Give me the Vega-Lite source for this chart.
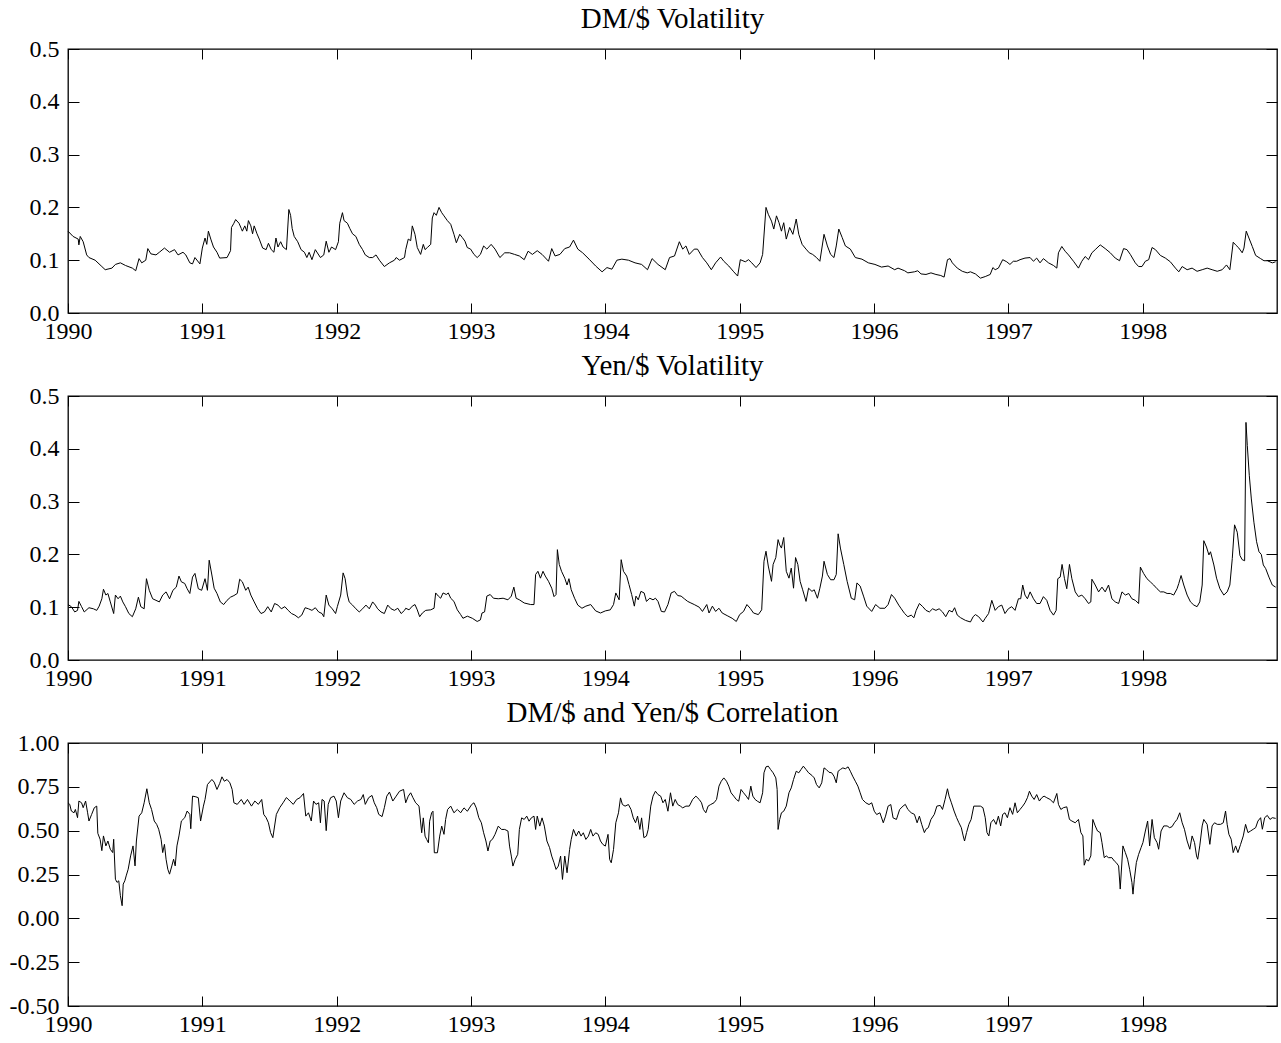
{
"$schema":"https://vega.github.io/schema/vega-lite/v6.json",
"padding":{"left":8,"top":4,"right":5,"bottom":2},
"spacing":7,
"config":{
 "font":"Liberation Serif",
 "view":{"stroke":"black","strokeWidth":1.3},
 "axis":{"grid":false,"domain":false,"labelFont":"Liberation Serif","labelFontSize":24,"labelColor":"black","tickColor":"black","tickWidth":1,"title":null,"labelFlush":false,"labelOverlap":false,"labelBound":false},
 "title":{"font":"Liberation Serif","fontSize":29,"fontWeight":"normal","color":"black","offset":3}
},
"datasets":{
"dm":[
{"t":1990.0,"v":0.155},{"t":1990.038,"v":0.145},{"t":1990.076,"v":0.14},{"t":1990.081,"v":0.129},{"t":1990.091,"v":0.145},{"t":1990.113,"v":0.135},{"t":1990.139,"v":0.11},{"t":1990.156,"v":0.105},{"t":1990.202,"v":0.1},{"t":1990.252,"v":0.088},{"t":1990.277,"v":0.082},{"t":1990.327,"v":0.085},{"t":1990.353,"v":0.092},{"t":1990.39,"v":0.095},{"t":1990.428,"v":0.09},{"t":1990.479,"v":0.085},{"t":1990.504,"v":0.08},{"t":1990.529,"v":0.103},{"t":1990.549,"v":0.095},{"t":1990.579,"v":0.1},{"t":1990.594,"v":0.122},{"t":1990.617,"v":0.112},{"t":1990.655,"v":0.11},{"t":1990.68,"v":0.115},{"t":1990.718,"v":0.123},{"t":1990.756,"v":0.115},{"t":1990.793,"v":0.12},{"t":1990.819,"v":0.11},{"t":1990.856,"v":0.115},{"t":1990.877,"v":0.11},{"t":1990.907,"v":0.095},{"t":1990.927,"v":0.093},{"t":1990.945,"v":0.105},{"t":1990.982,"v":0.093},{"t":1991.0,"v":0.123},{"t":1991.02,"v":0.142},{"t":1991.033,"v":0.13},{"t":1991.045,"v":0.155},{"t":1991.063,"v":0.14},{"t":1991.083,"v":0.125},{"t":1991.109,"v":0.115},{"t":1991.129,"v":0.104},{"t":1991.184,"v":0.105},{"t":1991.21,"v":0.118},{"t":1991.217,"v":0.162},{"t":1991.235,"v":0.17},{"t":1991.248,"v":0.177},{"t":1991.273,"v":0.17},{"t":1991.29,"v":0.16},{"t":1991.298,"v":0.155},{"t":1991.316,"v":0.165},{"t":1991.331,"v":0.155},{"t":1991.343,"v":0.175},{"t":1991.361,"v":0.165},{"t":1991.374,"v":0.15},{"t":1991.386,"v":0.165},{"t":1991.407,"v":0.15},{"t":1991.424,"v":0.14},{"t":1991.449,"v":0.123},{"t":1991.475,"v":0.12},{"t":1991.492,"v":0.132},{"t":1991.513,"v":0.12},{"t":1991.533,"v":0.115},{"t":1991.548,"v":0.142},{"t":1991.563,"v":0.125},{"t":1991.583,"v":0.135},{"t":1991.601,"v":0.125},{"t":1991.626,"v":0.12},{"t":1991.644,"v":0.196},{"t":1991.657,"v":0.185},{"t":1991.669,"v":0.16},{"t":1991.684,"v":0.145},{"t":1991.71,"v":0.135},{"t":1991.735,"v":0.12},{"t":1991.76,"v":0.115},{"t":1991.778,"v":0.105},{"t":1991.795,"v":0.115},{"t":1991.816,"v":0.101},{"t":1991.841,"v":0.12},{"t":1991.879,"v":0.105},{"t":1991.904,"v":0.11},{"t":1991.922,"v":0.136},{"t":1991.942,"v":0.115},{"t":1991.962,"v":0.125},{"t":1991.992,"v":0.12},{"t":1992.013,"v":0.135},{"t":1992.023,"v":0.17},{"t":1992.043,"v":0.19},{"t":1992.055,"v":0.175},{"t":1992.08,"v":0.17},{"t":1992.098,"v":0.16},{"t":1992.118,"v":0.15},{"t":1992.143,"v":0.145},{"t":1992.168,"v":0.13},{"t":1992.193,"v":0.12},{"t":1992.213,"v":0.11},{"t":1992.243,"v":0.105},{"t":1992.268,"v":0.105},{"t":1992.293,"v":0.11},{"t":1992.318,"v":0.1},{"t":1992.355,"v":0.088},{"t":1992.393,"v":0.095},{"t":1992.43,"v":0.1},{"t":1992.443,"v":0.105},{"t":1992.468,"v":0.1},{"t":1992.505,"v":0.105},
{"t":1992.514,"v":0.12},{"t":1992.533,"v":0.14},{"t":1992.551,"v":0.137},{"t":1992.563,"v":0.165},{"t":1992.583,"v":0.149},{"t":1992.6,"v":0.124},{"t":1992.625,"v":0.111},{"t":1992.645,"v":0.13},{"t":1992.658,"v":0.12},{"t":1992.675,"v":0.124},{"t":1992.7,"v":0.13},{"t":1992.712,"v":0.18},{"t":1992.725,"v":0.19},{"t":1992.742,"v":0.185},{"t":1992.762,"v":0.2},{"t":1992.782,"v":0.19},{"t":1992.799,"v":0.184},{"t":1992.824,"v":0.175},{"t":1992.849,"v":0.168},{"t":1992.873,"v":0.149},{"t":1992.891,"v":0.133},{"t":1992.916,"v":0.149},{"t":1992.935,"v":0.143},{"t":1992.955,"v":0.136},{"t":1992.972,"v":0.124},{"t":1992.997,"v":0.121},{"t":1993.022,"v":0.111},{"t":1993.046,"v":0.105},{"t":1993.07,"v":0.111},{"t":1993.094,"v":0.127},{"t":1993.118,"v":0.121},{"t":1993.15,"v":0.13},{"t":1993.179,"v":0.121},{"t":1993.215,"v":0.105},{"t":1993.251,"v":0.114},{"t":1993.287,"v":0.114},{"t":1993.324,"v":0.111},{"t":1993.36,"v":0.108},{"t":1993.396,"v":0.101},{"t":1993.425,"v":0.117},{"t":1993.457,"v":0.111},{"t":1993.493,"v":0.118},{"t":1993.529,"v":0.111},{"t":1993.577,"v":0.098},{"t":1993.601,"v":0.122},{"t":1993.626,"v":0.108},{"t":1993.662,"v":0.111},{"t":1993.698,"v":0.122},{"t":1993.734,"v":0.125},{"t":1993.763,"v":0.138},{"t":1993.795,"v":0.121},{"t":1993.831,"v":0.114},{"t":1993.879,"v":0.102},{"t":1993.928,"v":0.089},{"t":1993.976,"v":0.078},{"t":1994.012,"v":0.086},{"t":1994.049,"v":0.083},{"t":1994.086,"v":0.1},{"t":1994.123,"v":0.102},{"t":1994.172,"v":0.1},{"t":1994.221,"v":0.095},{"t":1994.27,"v":0.092},{"t":1994.314,"v":0.082},{"t":1994.348,"v":0.103},{"t":1994.392,"v":0.092},{"t":1994.446,"v":0.082},{"t":1994.478,"v":0.105},{"t":1994.515,"v":0.108},{"t":1994.551,"v":0.135},{"t":1994.576,"v":0.121},{"t":1994.6,"v":0.127},{"t":1994.625,"v":0.111},{"t":1994.662,"v":0.121},{"t":1994.686,"v":0.121},{"t":1994.723,"v":0.105},{"t":1994.755,"v":0.095},{"t":1994.789,"v":0.082},{"t":1994.821,"v":0.095},{"t":1994.858,"v":0.106},{"t":1994.882,"v":0.098},{"t":1994.919,"v":0.089},{"t":1994.956,"v":0.078},{"t":1994.985,"v":0.07},{"t":1995.005,"v":0.101},{"t":1995.042,"v":0.097},{"t":1995.066,"v":0.101},{"t":1995.09,"v":0.095},{"t":1995.122,"v":0.086},{"t":1995.152,"v":0.095},{"t":1995.171,"v":0.111},{"t":1995.196,"v":0.2},{"t":1995.213,"v":0.187},{"t":1995.237,"v":0.174},{"t":1995.254,"v":0.159},{"t":1995.274,"v":0.184},{"t":1995.293,"v":0.171},{"t":1995.311,"v":0.155},{"t":1995.328,"v":0.171},{"t":1995.347,"v":0.14},{"t":1995.372,"v":0.162},{"t":1995.396,"v":0.149},{"t":1995.421,"v":0.178},{"t":1995.44,"v":0.149},{"t":1995.465,"v":0.13},{"t":1995.494,"v":0.121},{"t":1995.518,"v":0.114},{"t":1995.543,"v":0.111},{"t":1995.572,"v":0.105},{"t":1995.597,"v":0.098},{"t":1995.628,"v":0.149},{"t":1995.653,"v":0.127},{"t":1995.677,"v":0.111},{"t":1995.702,"v":0.105},{"t":1995.719,"v":0.127},{"t":1995.738,"v":0.159},{"t":1995.763,"v":0.143},{"t":1995.787,"v":0.127},{"t":1995.824,"v":0.121},{"t":1995.861,"v":0.105},{"t":1995.91,"v":0.102},{"t":1995.958,"v":0.095},{"t":1996.007,"v":0.092},{"t":1996.056,"v":0.087},{"t":1996.105,"v":0.089},{"t":1996.154,"v":0.082},
{"t":1996.179,"v":0.085},{"t":1996.228,"v":0.08},{"t":1996.252,"v":0.076},{"t":1996.301,"v":0.078},{"t":1996.326,"v":0.08},{"t":1996.35,"v":0.074},{"t":1996.387,"v":0.073},{"t":1996.424,"v":0.076},{"t":1996.461,"v":0.073},{"t":1996.497,"v":0.071},{"t":1996.522,"v":0.068},{"t":1996.547,"v":0.101},{"t":1996.566,"v":0.103},{"t":1996.583,"v":0.095},{"t":1996.62,"v":0.085},{"t":1996.657,"v":0.079},{"t":1996.694,"v":0.076},{"t":1996.718,"v":0.078},{"t":1996.755,"v":0.074},{"t":1996.792,"v":0.066},{"t":1996.828,"v":0.069},{"t":1996.865,"v":0.073},{"t":1996.885,"v":0.086},{"t":1996.902,"v":0.082},{"t":1996.926,"v":0.085},{"t":1996.958,"v":0.101},{"t":1996.988,"v":0.097},{"t":1997.012,"v":0.092},{"t":1997.037,"v":0.098},{"t":1997.062,"v":0.098},{"t":1997.087,"v":0.101},{"t":1997.124,"v":0.104},{"t":1997.162,"v":0.105},{"t":1997.187,"v":0.098},{"t":1997.211,"v":0.104},{"t":1997.236,"v":0.095},{"t":1997.261,"v":0.103},{"t":1997.299,"v":0.095},{"t":1997.336,"v":0.09},{"t":1997.361,"v":0.085},{"t":1997.373,"v":0.114},{"t":1997.398,"v":0.126},{"t":1997.423,"v":0.117},{"t":1997.448,"v":0.11},{"t":1997.485,"v":0.098},{"t":1997.522,"v":0.085},{"t":1997.547,"v":0.098},{"t":1997.572,"v":0.107},{"t":1997.597,"v":0.101},{"t":1997.622,"v":0.114},{"t":1997.647,"v":0.12},{"t":1997.684,"v":0.129},{"t":1997.721,"v":0.122},{"t":1997.759,"v":0.114},{"t":1997.796,"v":0.104},{"t":1997.828,"v":0.099},{"t":1997.858,"v":0.122},{"t":1997.883,"v":0.12},{"t":1997.908,"v":0.111},{"t":1997.945,"v":0.095},{"t":1997.97,"v":0.088},{"t":1997.995,"v":0.088},{"t":1998.02,"v":0.098},{"t":1998.045,"v":0.101},{"t":1998.07,"v":0.124},{"t":1998.095,"v":0.12},{"t":1998.132,"v":0.109},{"t":1998.169,"v":0.104},{"t":1998.206,"v":0.097},{"t":1998.244,"v":0.085},{"t":1998.269,"v":0.078},{"t":1998.294,"v":0.088},{"t":1998.331,"v":0.082},{"t":1998.368,"v":0.085},{"t":1998.405,"v":0.079},{"t":1998.443,"v":0.082},{"t":1998.48,"v":0.085},{"t":1998.517,"v":0.082},{"t":1998.555,"v":0.079},{"t":1998.592,"v":0.082},{"t":1998.624,"v":0.091},{"t":1998.649,"v":0.082},{"t":1998.674,"v":0.134},{"t":1998.692,"v":0.129},{"t":1998.716,"v":0.123},{"t":1998.741,"v":0.114},{"t":1998.754,"v":0.123},{"t":1998.771,"v":0.155},{"t":1998.791,"v":0.142},{"t":1998.816,"v":0.126},{"t":1998.841,"v":0.109},{"t":1998.878,"v":0.103},{"t":1998.903,"v":0.099},{"t":1998.928,"v":0.099},{"t":1998.965,"v":0.095},{"t":1998.99,"v":0.097}
],
"yen":[
{"t":1990.0,"v":0.105},{"t":1990.025,"v":0.101},{"t":1990.05,"v":0.091},{"t":1990.071,"v":0.094},{"t":1990.081,"v":0.111},{"t":1990.101,"v":0.101},{"t":1990.121,"v":0.091},{"t":1990.156,"v":0.099},{"t":1990.189,"v":0.097},{"t":1990.214,"v":0.094},{"t":1990.232,"v":0.102},{"t":1990.252,"v":0.116},{"t":1990.264,"v":0.134},{"t":1990.282,"v":0.123},{"t":1990.297,"v":0.126},{"t":1990.315,"v":0.11},{"t":1990.34,"v":0.088},{"t":1990.353,"v":0.123},{"t":1990.373,"v":0.116},{"t":1990.39,"v":0.121},{"t":1990.408,"v":0.11},{"t":1990.428,"v":0.101},{"t":1990.453,"v":0.088},{"t":1990.479,"v":0.082},{"t":1990.504,"v":0.097},{"t":1990.524,"v":0.119},{"t":1990.542,"v":0.101},{"t":1990.567,"v":0.097},{"t":1990.584,"v":0.154},{"t":1990.605,"v":0.132},{"t":1990.63,"v":0.116},{"t":1990.655,"v":0.113},{"t":1990.68,"v":0.11},{"t":1990.705,"v":0.123},{"t":1990.73,"v":0.129},{"t":1990.756,"v":0.116},{"t":1990.781,"v":0.132},{"t":1990.806,"v":0.138},{"t":1990.826,"v":0.159},{"t":1990.844,"v":0.148},{"t":1990.869,"v":0.145},{"t":1990.887,"v":0.135},{"t":1990.907,"v":0.126},{"t":1990.927,"v":0.157},{"t":1990.945,"v":0.164},{"t":1990.97,"v":0.135},{"t":1990.995,"v":0.132},{"t":1991.02,"v":0.154},{"t":1991.038,"v":0.132},{"t":1991.051,"v":0.189},{"t":1991.071,"v":0.161},{"t":1991.088,"v":0.136},{"t":1991.109,"v":0.126},{"t":1991.134,"v":0.11},{"t":1991.159,"v":0.105},{"t":1991.184,"v":0.113},{"t":1991.21,"v":0.119},{"t":1991.235,"v":0.122},{"t":1991.26,"v":0.126},{"t":1991.278,"v":0.153},{"t":1991.298,"v":0.148},{"t":1991.323,"v":0.132},{"t":1991.341,"v":0.138},{"t":1991.361,"v":0.123},{"t":1991.386,"v":0.11},{"t":1991.412,"v":0.097},{"t":1991.437,"v":0.088},{"t":1991.462,"v":0.091},{"t":1991.487,"v":0.101},{"t":1991.513,"v":0.091},{"t":1991.538,"v":0.107},{"t":1991.563,"v":0.104},{"t":1991.588,"v":0.097},{"t":1991.614,"v":0.101},{"t":1991.639,"v":0.094},{"t":1991.664,"v":0.088},{"t":1991.689,"v":0.085},{"t":1991.715,"v":0.08},{"t":1991.74,"v":0.085},{"t":1991.765,"v":0.099},{"t":1991.79,"v":0.097},{"t":1991.816,"v":0.094},{"t":1991.841,"v":0.099},{"t":1991.866,"v":0.091},{"t":1991.891,"v":0.088},{"t":1991.904,"v":0.082},{"t":1991.922,"v":0.123},{"t":1991.942,"v":0.104},{"t":1991.967,"v":0.097},{"t":1991.992,"v":0.088},{"t":1992.005,"v":0.101},{"t":1992.03,"v":0.123},{"t":1992.048,"v":0.165},{"t":1992.063,"v":0.154},{"t":1992.08,"v":0.123},{"t":1992.093,"v":0.11},{"t":1992.118,"v":0.104},{"t":1992.143,"v":0.097},{"t":1992.168,"v":0.091},{"t":1992.193,"v":0.097},{"t":1992.218,"v":0.104},{"t":1992.243,"v":0.097},{"t":1992.268,"v":0.11},{"t":1992.288,"v":0.104},{"t":1992.305,"v":0.097},{"t":1992.33,"v":0.091},{"t":1992.355,"v":0.088},{"t":1992.38,"v":0.104},{"t":1992.405,"v":0.097},{"t":1992.43,"v":0.094},{"t":1992.455,"v":0.098},{"t":1992.48,"v":0.088},{"t":1992.505,"v":0.094},
{"t":1992.514,"v":0.098},{"t":1992.539,"v":0.095},{"t":1992.563,"v":0.102},{"t":1992.583,"v":0.105},{"t":1992.6,"v":0.095},{"t":1992.618,"v":0.082},{"t":1992.638,"v":0.089},{"t":1992.663,"v":0.094},{"t":1992.7,"v":0.095},{"t":1992.725,"v":0.098},{"t":1992.737,"v":0.127},{"t":1992.757,"v":0.121},{"t":1992.774,"v":0.117},{"t":1992.792,"v":0.127},{"t":1992.816,"v":0.124},{"t":1992.831,"v":0.127},{"t":1992.849,"v":0.117},{"t":1992.873,"v":0.111},{"t":1992.898,"v":0.095},{"t":1992.923,"v":0.086},{"t":1992.94,"v":0.079},{"t":1992.973,"v":0.083},{"t":1993.01,"v":0.079},{"t":1993.046,"v":0.073},{"t":1993.07,"v":0.076},{"t":1993.082,"v":0.089},{"t":1993.101,"v":0.091},{"t":1993.118,"v":0.121},{"t":1993.143,"v":0.124},{"t":1993.167,"v":0.117},{"t":1993.203,"v":0.116},{"t":1993.239,"v":0.117},{"t":1993.275,"v":0.114},{"t":1993.3,"v":0.121},{"t":1993.319,"v":0.138},{"t":1993.336,"v":0.117},{"t":1993.36,"v":0.114},{"t":1993.396,"v":0.108},{"t":1993.444,"v":0.105},{"t":1993.469,"v":0.105},{"t":1993.481,"v":0.162},{"t":1993.498,"v":0.168},{"t":1993.517,"v":0.155},{"t":1993.536,"v":0.168},{"t":1993.553,"v":0.159},{"t":1993.577,"v":0.149},{"t":1993.601,"v":0.136},{"t":1993.618,"v":0.12},{"t":1993.633,"v":0.124},{"t":1993.643,"v":0.209},{"t":1993.657,"v":0.181},{"t":1993.674,"v":0.168},{"t":1993.698,"v":0.155},{"t":1993.715,"v":0.142},{"t":1993.729,"v":0.154},{"t":1993.746,"v":0.133},{"t":1993.771,"v":0.117},{"t":1993.795,"v":0.104},{"t":1993.826,"v":0.098},{"t":1993.855,"v":0.102},{"t":1993.891,"v":0.105},{"t":1993.928,"v":0.093},{"t":1993.964,"v":0.089},{"t":1994.0,"v":0.093},{"t":1994.037,"v":0.095},{"t":1994.061,"v":0.105},{"t":1994.078,"v":0.127},{"t":1994.103,"v":0.114},{"t":1994.118,"v":0.19},{"t":1994.135,"v":0.168},{"t":1994.159,"v":0.159},{"t":1994.176,"v":0.143},{"t":1994.196,"v":0.124},{"t":1994.216,"v":0.102},{"t":1994.228,"v":0.121},{"t":1994.245,"v":0.114},{"t":1994.265,"v":0.13},{"t":1994.289,"v":0.127},{"t":1994.306,"v":0.111},{"t":1994.331,"v":0.117},{"t":1994.355,"v":0.114},{"t":1994.373,"v":0.117},{"t":1994.392,"v":0.111},{"t":1994.417,"v":0.092},{"t":1994.441,"v":0.091},{"t":1994.466,"v":0.105},{"t":1994.49,"v":0.127},{"t":1994.515,"v":0.13},{"t":1994.539,"v":0.122},{"t":1994.564,"v":0.121},{"t":1994.588,"v":0.116},{"t":1994.613,"v":0.111},{"t":1994.637,"v":0.108},{"t":1994.662,"v":0.105},{"t":1994.699,"v":0.1},{"t":1994.723,"v":0.092},{"t":1994.755,"v":0.105},{"t":1994.772,"v":0.089},{"t":1994.797,"v":0.102},{"t":1994.821,"v":0.092},{"t":1994.846,"v":0.098},{"t":1994.87,"v":0.089},{"t":1994.907,"v":0.084},{"t":1994.944,"v":0.079},{"t":1994.975,"v":0.073},{"t":1995.0,"v":0.086},{"t":1995.029,"v":0.092},{"t":1995.054,"v":0.105},{"t":1995.078,"v":0.098},{"t":1995.103,"v":0.089},{"t":1995.139,"v":0.086},{"t":1995.164,"v":0.095},{"t":1995.181,"v":0.187},{"t":1995.196,"v":0.206},{"t":1995.213,"v":0.178},{"t":1995.237,"v":0.149},{"t":1995.249,"v":0.181},{"t":1995.269,"v":0.194},{"t":1995.286,"v":0.228},{"t":1995.298,"v":0.218},{"t":1995.311,"v":0.212},{"t":1995.328,"v":0.232},{"t":1995.347,"v":0.168},{"t":1995.367,"v":0.155},{"t":1995.384,"v":0.174},{"t":1995.401,"v":0.136},{"t":1995.416,"v":0.194},{"t":1995.433,"v":0.181},{"t":1995.45,"v":0.149},{"t":1995.469,"v":0.133},{"t":1995.494,"v":0.111},{"t":1995.513,"v":0.136},{"t":1995.538,"v":0.13},{"t":1995.555,"v":0.133},{"t":1995.579,"v":0.117},{"t":1995.597,"v":0.136},{"t":1995.616,"v":0.159},{"t":1995.628,"v":0.187},{"t":1995.653,"v":0.162},{"t":1995.677,"v":0.152},{"t":1995.702,"v":0.152},{"t":1995.719,"v":0.162},{"t":1995.733,"v":0.239},{"t":1995.75,"v":0.212},{"t":1995.775,"v":0.181},{"t":1995.8,"v":0.149},{"t":1995.831,"v":0.117},{"t":1995.856,"v":0.114},{"t":1995.873,"v":0.146},{"t":1995.897,"v":0.14},{"t":1995.922,"v":0.121},{"t":1995.946,"v":0.102},{"t":1995.983,"v":0.092},{"t":1996.012,"v":0.105},{"t":1996.044,"v":0.098},{"t":1996.081,"v":0.098},{"t":1996.105,"v":0.105},{"t":1996.13,"v":0.124},{"t":1996.154,"v":0.117},
{"t":1996.184,"v":0.104},{"t":1996.203,"v":0.097},{"t":1996.228,"v":0.088},{"t":1996.252,"v":0.082},{"t":1996.277,"v":0.085},{"t":1996.297,"v":0.08},{"t":1996.314,"v":0.094},{"t":1996.338,"v":0.107},{"t":1996.363,"v":0.101},{"t":1996.387,"v":0.094},{"t":1996.412,"v":0.091},{"t":1996.436,"v":0.097},{"t":1996.461,"v":0.094},{"t":1996.485,"v":0.097},{"t":1996.51,"v":0.091},{"t":1996.534,"v":0.082},{"t":1996.559,"v":0.094},{"t":1996.583,"v":0.091},{"t":1996.6,"v":0.099},{"t":1996.62,"v":0.085},{"t":1996.645,"v":0.08},{"t":1996.681,"v":0.075},{"t":1996.718,"v":0.072},{"t":1996.738,"v":0.082},{"t":1996.755,"v":0.086},{"t":1996.779,"v":0.082},{"t":1996.811,"v":0.072},{"t":1996.828,"v":0.079},{"t":1996.853,"v":0.088},{"t":1996.877,"v":0.113},{"t":1996.902,"v":0.094},{"t":1996.926,"v":0.101},{"t":1996.951,"v":0.104},{"t":1996.975,"v":0.088},{"t":1997.0,"v":0.097},{"t":1997.025,"v":0.101},{"t":1997.05,"v":0.094},{"t":1997.075,"v":0.116},{"t":1997.092,"v":0.116},{"t":1997.107,"v":0.142},{"t":1997.124,"v":0.123},{"t":1997.142,"v":0.116},{"t":1997.162,"v":0.129},{"t":1997.187,"v":0.116},{"t":1997.211,"v":0.107},{"t":1997.236,"v":0.107},{"t":1997.261,"v":0.12},{"t":1997.286,"v":0.113},{"t":1997.311,"v":0.094},{"t":1997.336,"v":0.085},{"t":1997.356,"v":0.094},{"t":1997.368,"v":0.154},{"t":1997.386,"v":0.157},{"t":1997.4,"v":0.181},{"t":1997.418,"v":0.154},{"t":1997.435,"v":0.135},{"t":1997.455,"v":0.181},{"t":1997.473,"v":0.154},{"t":1997.498,"v":0.129},{"t":1997.522,"v":0.12},{"t":1997.547,"v":0.123},{"t":1997.572,"v":0.116},{"t":1997.597,"v":0.107},{"t":1997.614,"v":0.11},{"t":1997.622,"v":0.153},{"t":1997.647,"v":0.142},{"t":1997.672,"v":0.129},{"t":1997.697,"v":0.138},{"t":1997.721,"v":0.129},{"t":1997.746,"v":0.142},{"t":1997.771,"v":0.116},{"t":1997.796,"v":0.11},{"t":1997.821,"v":0.107},{"t":1997.846,"v":0.129},{"t":1997.871,"v":0.123},{"t":1997.896,"v":0.126},{"t":1997.92,"v":0.116},{"t":1997.945,"v":0.113},{"t":1997.97,"v":0.107},{"t":1997.983,"v":0.176},{"t":1998.007,"v":0.164},{"t":1998.032,"v":0.154},{"t":1998.057,"v":0.148},{"t":1998.082,"v":0.142},{"t":1998.107,"v":0.135},{"t":1998.132,"v":0.129},{"t":1998.157,"v":0.129},{"t":1998.182,"v":0.126},{"t":1998.206,"v":0.126},{"t":1998.231,"v":0.123},{"t":1998.256,"v":0.135},{"t":1998.269,"v":0.145},{"t":1998.286,"v":0.16},{"t":1998.306,"v":0.142},{"t":1998.331,"v":0.123},{"t":1998.356,"v":0.11},{"t":1998.381,"v":0.104},{"t":1998.405,"v":0.101},{"t":1998.425,"v":0.11},{"t":1998.443,"v":0.142},{"t":1998.455,"v":0.226},{"t":1998.475,"v":0.214},{"t":1998.493,"v":0.199},{"t":1998.505,"v":0.205},{"t":1998.53,"v":0.18},{"t":1998.55,"v":0.155},{"t":1998.575,"v":0.135},{"t":1998.604,"v":0.123},{"t":1998.629,"v":0.129},{"t":1998.649,"v":0.142},{"t":1998.667,"v":0.192},{"t":1998.684,"v":0.256},{"t":1998.704,"v":0.242},{"t":1998.724,"v":0.198},{"t":1998.741,"v":0.19},{"t":1998.759,"v":0.188},{"t":1998.769,"v":0.45},{"t":1998.779,"v":0.406},{"t":1998.794,"v":0.349},{"t":1998.809,"v":0.305},{"t":1998.828,"v":0.261},{"t":1998.848,"v":0.224},{"t":1998.866,"v":0.205},{"t":1998.883,"v":0.2},{"t":1998.898,"v":0.18},{"t":1998.916,"v":0.173},{"t":1998.94,"v":0.157},{"t":1998.965,"v":0.142},{"t":1998.99,"v":0.138}
],
"corr":[
{"t":1990.0,"v":0.659},{"t":1990.013,"v":0.65},{"t":1990.025,"v":0.612},{"t":1990.045,"v":0.602},{"t":1990.055,"v":0.621},{"t":1990.071,"v":0.574},{"t":1990.081,"v":0.669},{"t":1990.101,"v":0.659},{"t":1990.113,"v":0.631},{"t":1990.131,"v":0.669},{"t":1990.146,"v":0.602},{"t":1990.156,"v":0.555},{"t":1990.176,"v":0.593},{"t":1990.196,"v":0.631},{"t":1990.214,"v":0.64},{"t":1990.222,"v":0.485},{"t":1990.239,"v":0.451},{"t":1990.252,"v":0.386},{"t":1990.264,"v":0.47},{"t":1990.282,"v":0.413},{"t":1990.297,"v":0.441},{"t":1990.315,"v":0.394},{"t":1990.333,"v":0.375},{"t":1990.34,"v":0.451},{"t":1990.353,"v":0.223},{"t":1990.365,"v":0.205},{"t":1990.378,"v":0.214},{"t":1990.39,"v":0.129},{"t":1990.403,"v":0.072},{"t":1990.411,"v":0.195},{"t":1990.423,"v":0.214},{"t":1990.433,"v":0.242},{"t":1990.448,"v":0.28},{"t":1990.466,"v":0.356},{"t":1990.484,"v":0.413},{"t":1990.499,"v":0.299},{"t":1990.509,"v":0.441},{"t":1990.529,"v":0.583},{"t":1990.549,"v":0.602},{"t":1990.567,"v":0.659},{"t":1990.587,"v":0.739},{"t":1990.605,"v":0.659},{"t":1990.622,"v":0.621},{"t":1990.642,"v":0.555},{"t":1990.66,"v":0.536},{"t":1990.675,"v":0.508},{"t":1990.693,"v":0.451},{"t":1990.705,"v":0.375},{"t":1990.718,"v":0.422},{"t":1990.73,"v":0.337},{"t":1990.743,"v":0.28},{"t":1990.756,"v":0.252},{"t":1990.773,"v":0.299},{"t":1990.786,"v":0.337},{"t":1990.798,"v":0.299},{"t":1990.811,"v":0.413},{"t":1990.826,"v":0.47},{"t":1990.844,"v":0.555},{"t":1990.869,"v":0.574},{"t":1990.887,"v":0.612},{"t":1990.907,"v":0.593},{"t":1990.914,"v":0.511},{"t":1990.927,"v":0.697},{"t":1990.952,"v":0.693},{"t":1990.97,"v":0.688},{"t":1990.987,"v":0.555},{"t":1991.008,"v":0.64},{"t":1991.02,"v":0.678},{"t":1991.038,"v":0.763},{"t":1991.071,"v":0.792},{"t":1991.088,"v":0.777},{"t":1991.109,"v":0.735},{"t":1991.129,"v":0.769},{"t":1991.146,"v":0.807},{"t":1991.164,"v":0.782},{"t":1991.184,"v":0.792},{"t":1991.205,"v":0.773},{"t":1991.222,"v":0.735},{"t":1991.235,"v":0.659},{"t":1991.26,"v":0.65},{"t":1991.29,"v":0.678},{"t":1991.311,"v":0.65},{"t":1991.336,"v":0.678},{"t":1991.366,"v":0.64},{"t":1991.391,"v":0.669},{"t":1991.417,"v":0.65},{"t":1991.442,"v":0.678},{"t":1991.457,"v":0.593},{"t":1991.475,"v":0.574},{"t":1991.492,"v":0.545},{"t":1991.508,"v":0.489},{"t":1991.525,"v":0.46},{"t":1991.551,"v":0.593},{"t":1991.576,"v":0.631},{"t":1991.601,"v":0.659},{"t":1991.626,"v":0.689},{"t":1991.652,"v":0.669},{"t":1991.677,"v":0.65},{"t":1991.702,"v":0.678},{"t":1991.727,"v":0.688},{"t":1991.753,"v":0.712},{"t":1991.77,"v":0.583},{"t":1991.79,"v":0.602},{"t":1991.811,"v":0.555},{"t":1991.828,"v":0.669},{"t":1991.846,"v":0.65},{"t":1991.866,"v":0.659},{"t":1991.879,"v":0.545},{"t":1991.891,"v":0.678},{"t":1991.907,"v":0.669},{"t":1991.922,"v":0.5},{"t":1991.937,"v":0.65},{"t":1991.955,"v":0.688},{"t":1991.98,"v":0.697},{"t":1991.997,"v":0.669},{"t":1992.013,"v":0.574},{"t":1992.03,"v":0.669},{"t":1992.055,"v":0.716},{"t":1992.08,"v":0.688},{"t":1992.105,"v":0.678},{"t":1992.13,"v":0.65},{"t":1992.155,"v":0.669},{"t":1992.18,"v":0.678},{"t":1992.198,"v":0.706},{"t":1992.213,"v":0.65},{"t":1992.238,"v":0.688},{"t":1992.263,"v":0.701},{"t":1992.28,"v":0.659},{"t":1992.298,"v":0.631},{"t":1992.313,"v":0.593},{"t":1992.338,"v":0.58},{"t":1992.355,"v":0.631},{"t":1992.373,"v":0.697},{"t":1992.393,"v":0.72},{"t":1992.418,"v":0.669},{"t":1992.443,"v":0.697},{"t":1992.468,"v":0.725},{"t":1992.498,"v":0.735},
{"t":1992.514,"v":0.659},{"t":1992.533,"v":0.697},{"t":1992.551,"v":0.716},{"t":1992.568,"v":0.688},{"t":1992.588,"v":0.659},{"t":1992.613,"v":0.64},{"t":1992.633,"v":0.488},{"t":1992.645,"v":0.573},{"t":1992.658,"v":0.469},{"t":1992.67,"v":0.45},{"t":1992.683,"v":0.431},{"t":1992.692,"v":0.554},{"t":1992.707,"v":0.602},{"t":1992.717,"v":0.611},{"t":1992.727,"v":0.374},{"t":1992.75,"v":0.374},{"t":1992.767,"v":0.469},{"t":1992.782,"v":0.526},{"t":1992.799,"v":0.479},{"t":1992.811,"v":0.564},{"t":1992.826,"v":0.621},{"t":1992.849,"v":0.64},{"t":1992.873,"v":0.602},{"t":1992.898,"v":0.621},{"t":1992.923,"v":0.602},{"t":1992.948,"v":0.63},{"t":1992.973,"v":0.611},{"t":1993.005,"v":0.649},{"t":1993.022,"v":0.659},{"t":1993.039,"v":0.63},{"t":1993.058,"v":0.574},{"t":1993.077,"v":0.545},{"t":1993.094,"v":0.488},{"t":1993.111,"v":0.441},{"t":1993.126,"v":0.384},{"t":1993.143,"v":0.441},{"t":1993.159,"v":0.45},{"t":1993.179,"v":0.479},{"t":1993.203,"v":0.526},{"t":1993.227,"v":0.507},{"t":1993.251,"v":0.507},{"t":1993.275,"v":0.498},{"t":1993.287,"v":0.412},{"t":1993.3,"v":0.355},{"t":1993.312,"v":0.298},{"t":1993.329,"v":0.336},{"t":1993.348,"v":0.365},{"t":1993.36,"v":0.507},{"t":1993.377,"v":0.573},{"t":1993.396,"v":0.564},{"t":1993.415,"v":0.583},{"t":1993.432,"v":0.554},{"t":1993.449,"v":0.573},{"t":1993.469,"v":0.583},{"t":1993.481,"v":0.507},{"t":1993.493,"v":0.583},{"t":1993.512,"v":0.526},{"t":1993.529,"v":0.573},{"t":1993.546,"v":0.526},{"t":1993.565,"v":0.441},{"t":1993.585,"v":0.403},{"t":1993.601,"v":0.355},{"t":1993.618,"v":0.317},{"t":1993.633,"v":0.279},{"t":1993.65,"v":0.298},{"t":1993.667,"v":0.355},{"t":1993.681,"v":0.222},{"t":1993.698,"v":0.355},{"t":1993.715,"v":0.26},{"t":1993.734,"v":0.393},{"t":1993.746,"v":0.45},{"t":1993.763,"v":0.507},{"t":1993.783,"v":0.469},{"t":1993.802,"v":0.498},{"t":1993.819,"v":0.469},{"t":1993.836,"v":0.488},{"t":1993.855,"v":0.45},{"t":1993.874,"v":0.469},{"t":1993.891,"v":0.507},{"t":1993.908,"v":0.469},{"t":1993.928,"v":0.488},{"t":1993.947,"v":0.479},{"t":1993.964,"v":0.441},{"t":1993.981,"v":0.422},{"t":1994.0,"v":0.412},{"t":1994.02,"v":0.479},{"t":1994.032,"v":0.336},{"t":1994.044,"v":0.317},{"t":1994.061,"v":0.393},{"t":1994.078,"v":0.545},{"t":1994.098,"v":0.602},{"t":1994.113,"v":0.687},{"t":1994.127,"v":0.649},{"t":1994.147,"v":0.64},{"t":1994.172,"v":0.649},{"t":1994.191,"v":0.621},{"t":1994.208,"v":0.573},{"t":1994.225,"v":0.545},{"t":1994.24,"v":0.583},{"t":1994.257,"v":0.507},{"t":1994.27,"v":0.573},{"t":1994.287,"v":0.46},{"t":1994.306,"v":0.469},{"t":1994.319,"v":0.507},{"t":1994.338,"v":0.64},{"t":1994.355,"v":0.697},{"t":1994.373,"v":0.725},{"t":1994.392,"v":0.706},{"t":1994.412,"v":0.697},{"t":1994.429,"v":0.659},{"t":1994.446,"v":0.678},{"t":1994.466,"v":0.611},{"t":1994.485,"v":0.716},{"t":1994.502,"v":0.64},{"t":1994.52,"v":0.678},{"t":1994.539,"v":0.649},{"t":1994.559,"v":0.64},{"t":1994.576,"v":0.63},{"t":1994.6,"v":0.64},{"t":1994.625,"v":0.64},{"t":1994.65,"v":0.678},{"t":1994.674,"v":0.697},{"t":1994.699,"v":0.678},{"t":1994.716,"v":0.659},{"t":1994.73,"v":0.621},{"t":1994.748,"v":0.602},{"t":1994.765,"v":0.64},{"t":1994.784,"v":0.649},{"t":1994.809,"v":0.659},{"t":1994.828,"v":0.678},{"t":1994.846,"v":0.754},{"t":1994.863,"v":0.782},{"t":1994.882,"v":0.801},{"t":1994.902,"v":0.782},{"t":1994.919,"v":0.754},{"t":1994.936,"v":0.716},{"t":1994.956,"v":0.697},{"t":1994.975,"v":0.678},{"t":1994.993,"v":0.668},{"t":1995.01,"v":0.735},{"t":1995.029,"v":0.716},{"t":1995.049,"v":0.697},{"t":1995.066,"v":0.678},{"t":1995.083,"v":0.754},{"t":1995.098,"v":0.697},{"t":1995.115,"v":0.678},{"t":1995.132,"v":0.668},{"t":1995.152,"v":0.659},{"t":1995.171,"v":0.716},{"t":1995.181,"v":0.83},{"t":1995.196,"v":0.864},{"t":1995.213,"v":0.868},{"t":1995.23,"v":0.849},{"t":1995.249,"v":0.83},{"t":1995.269,"v":0.801},{"t":1995.279,"v":0.735},{"t":1995.286,"v":0.507},{"t":1995.298,"v":0.564},{"t":1995.311,"v":0.602},{"t":1995.328,"v":0.611},{"t":1995.347,"v":0.64},{"t":1995.367,"v":0.716},{"t":1995.384,"v":0.744},{"t":1995.401,"v":0.792},{"t":1995.421,"v":0.839},{"t":1995.44,"v":0.83},{"t":1995.457,"v":0.849},{"t":1995.474,"v":0.868},{"t":1995.494,"v":0.849},{"t":1995.513,"v":0.83},{"t":1995.538,"v":0.815},{"t":1995.555,"v":0.801},{"t":1995.572,"v":0.763},{"t":1995.592,"v":0.744},{"t":1995.611,"v":0.773},{"t":1995.628,"v":0.858},{"t":1995.645,"v":0.849},{"t":1995.665,"v":0.833},{"t":1995.685,"v":0.83},{"t":1995.702,"v":0.811},{"t":1995.719,"v":0.773},{"t":1995.733,"v":0.839},{"t":1995.75,"v":0.849},{"t":1995.768,"v":0.858},{"t":1995.787,"v":0.853},{"t":1995.807,"v":0.864},{"t":1995.824,"v":0.839},{"t":1995.841,"v":0.811},{"t":1995.861,"v":0.782},{"t":1995.88,"v":0.754},{"t":1995.897,"v":0.716},{"t":1995.914,"v":0.678},{"t":1995.939,"v":0.659},{"t":1995.963,"v":0.649},{"t":1995.983,"v":0.659},{"t":1996.002,"v":0.611},{"t":1996.02,"v":0.592},{"t":1996.044,"v":0.602},{"t":1996.069,"v":0.545},{"t":1996.086,"v":0.583},{"t":1996.105,"v":0.64},{"t":1996.125,"v":0.649},{"t":1996.142,"v":0.573},{"t":1996.167,"v":0.564},
{"t":1996.191,"v":0.621},{"t":1996.216,"v":0.64},{"t":1996.233,"v":0.65},{"t":1996.252,"v":0.621},{"t":1996.277,"v":0.602},{"t":1996.301,"v":0.593},{"t":1996.321,"v":0.545},{"t":1996.338,"v":0.583},{"t":1996.355,"v":0.536},{"t":1996.375,"v":0.489},{"t":1996.387,"v":0.508},{"t":1996.404,"v":0.517},{"t":1996.424,"v":0.564},{"t":1996.449,"v":0.593},{"t":1996.468,"v":0.64},{"t":1996.493,"v":0.644},{"t":1996.51,"v":0.621},{"t":1996.529,"v":0.678},{"t":1996.547,"v":0.739},{"t":1996.559,"v":0.697},{"t":1996.576,"v":0.659},{"t":1996.596,"v":0.612},{"t":1996.615,"v":0.574},{"t":1996.632,"v":0.545},{"t":1996.65,"v":0.517},{"t":1996.664,"v":0.47},{"t":1996.674,"v":0.441},{"t":1996.689,"v":0.489},{"t":1996.706,"v":0.536},{"t":1996.723,"v":0.564},{"t":1996.743,"v":0.64},{"t":1996.767,"v":0.64},{"t":1996.792,"v":0.64},{"t":1996.811,"v":0.631},{"t":1996.828,"v":0.574},{"t":1996.841,"v":0.489},{"t":1996.855,"v":0.47},{"t":1996.87,"v":0.545},{"t":1996.89,"v":0.564},{"t":1996.909,"v":0.536},{"t":1996.926,"v":0.583},{"t":1996.943,"v":0.527},{"t":1996.958,"v":0.593},{"t":1996.975,"v":0.602},{"t":1996.993,"v":0.574},{"t":1997.012,"v":0.631},{"t":1997.032,"v":0.593},{"t":1997.05,"v":0.659},{"t":1997.067,"v":0.602},{"t":1997.087,"v":0.621},{"t":1997.107,"v":0.64},{"t":1997.124,"v":0.659},{"t":1997.142,"v":0.688},{"t":1997.157,"v":0.725},{"t":1997.174,"v":0.697},{"t":1997.192,"v":0.678},{"t":1997.211,"v":0.706},{"t":1997.231,"v":0.669},{"t":1997.249,"v":0.688},{"t":1997.266,"v":0.697},{"t":1997.286,"v":0.688},{"t":1997.311,"v":0.678},{"t":1997.336,"v":0.659},{"t":1997.361,"v":0.712},{"t":1997.373,"v":0.65},{"t":1997.391,"v":0.621},{"t":1997.41,"v":0.631},{"t":1997.435,"v":0.636},{"t":1997.455,"v":0.564},{"t":1997.473,"v":0.555},{"t":1997.498,"v":0.545},{"t":1997.522,"v":0.564},{"t":1997.54,"v":0.489},{"t":1997.555,"v":0.47},{"t":1997.565,"v":0.303},{"t":1997.58,"v":0.337},{"t":1997.597,"v":0.327},{"t":1997.614,"v":0.356},{"t":1997.629,"v":0.564},{"t":1997.647,"v":0.527},{"t":1997.664,"v":0.498},{"t":1997.684,"v":0.489},{"t":1997.697,"v":0.432},{"t":1997.714,"v":0.346},{"t":1997.729,"v":0.356},{"t":1997.746,"v":0.346},{"t":1997.771,"v":0.346},{"t":1997.789,"v":0.327},{"t":1997.803,"v":0.318},{"t":1997.821,"v":0.299},{"t":1997.833,"v":0.167},{"t":1997.853,"v":0.413},{"t":1997.871,"v":0.375},{"t":1997.888,"v":0.337},{"t":1997.903,"v":0.28},{"t":1997.92,"v":0.205},{"t":1997.928,"v":0.138},{"t":1997.938,"v":0.223},{"t":1997.953,"v":0.318},{"t":1997.97,"v":0.365},{"t":1997.988,"v":0.403},{"t":1998.002,"v":0.432},{"t":1998.02,"v":0.498},{"t":1998.037,"v":0.555},{"t":1998.052,"v":0.413},{"t":1998.07,"v":0.564},{"t":1998.087,"v":0.46},{"t":1998.107,"v":0.432},{"t":1998.119,"v":0.394},{"t":1998.137,"v":0.498},{"t":1998.157,"v":0.527},{"t":1998.182,"v":0.527},{"t":1998.201,"v":0.517},{"t":1998.219,"v":0.523},{"t":1998.236,"v":0.545},{"t":1998.256,"v":0.564},{"t":1998.276,"v":0.602},{"t":1998.294,"v":0.545},{"t":1998.311,"v":0.508},{"t":1998.331,"v":0.441},{"t":1998.351,"v":0.394},{"t":1998.368,"v":0.47},{"t":1998.386,"v":0.432},{"t":1998.401,"v":0.356},{"t":1998.41,"v":0.337},{"t":1998.425,"v":0.413},{"t":1998.443,"v":0.527},{"t":1998.455,"v":0.564},{"t":1998.48,"v":0.536},{"t":1998.5,"v":0.422},{"t":1998.517,"v":0.527},{"t":1998.535,"v":0.545},{"t":1998.555,"v":0.536},{"t":1998.58,"v":0.536},{"t":1998.6,"v":0.545},{"t":1998.617,"v":0.612},{"t":1998.629,"v":0.536},{"t":1998.642,"v":0.479},{"t":1998.659,"v":0.451},{"t":1998.674,"v":0.375},{"t":1998.692,"v":0.413},{"t":1998.709,"v":0.375},{"t":1998.729,"v":0.422},{"t":1998.749,"v":0.47},{"t":1998.766,"v":0.536},{"t":1998.784,"v":0.489},{"t":1998.803,"v":0.498},{"t":1998.823,"v":0.508},{"t":1998.841,"v":0.517},{"t":1998.858,"v":0.555},{"t":1998.878,"v":0.574},{"t":1998.891,"v":0.508},{"t":1998.908,"v":0.574},{"t":1998.928,"v":0.587},{"t":1998.948,"v":0.564},{"t":1998.965,"v":0.574},{"t":1998.99,"v":0.57}
]
},
"vconcat":[
{"title":"DM/$ Volatility","width":1209,"height":264,"data":{"name":"dm"},
 "layer":[
  {"mark":{"type":"line","color":"black","strokeWidth":1},
   "encoding":{
    "x":{"field":"t","type":"quantitative","scale":{"domain":[1990,1999],"nice":false,"zero":false},"axis":{"orient":"bottom","values":[1990,1991,1992,1993,1994,1995,1996,1997,1998],"format":"d","tickSize":-10,"labelPadding":16}},
    "y":{"field":"v","type":"quantitative","scale":{"domain":[0,0.5],"nice":false},"axis":{"orient":"left","values":[0,0.1,0.2,0.3,0.4,0.5],"format":".1f","tickSize":-11,"labelPadding":20}}}},
  {"mark":{"type":"line","opacity":0},
   "encoding":{
    "x":{"field":"t","type":"quantitative","axis":{"orient":"top","values":[1990,1991,1992,1993,1994,1995,1996,1997,1998],"labels":false,"tickSize":-10}},
    "y":{"field":"v","type":"quantitative","axis":{"orient":"right","values":[0,0.1,0.2,0.3,0.4,0.5],"labels":false,"tickSize":-11}}}}
 ],
 "resolve":{"axis":{"x":"independent","y":"independent"}}},
{"title":"Yen/$ Volatility","width":1209,"height":264,"data":{"name":"yen"},
 "layer":[
  {"mark":{"type":"line","color":"black","strokeWidth":1},
   "encoding":{
    "x":{"field":"t","type":"quantitative","scale":{"domain":[1990,1999],"nice":false,"zero":false},"axis":{"orient":"bottom","values":[1990,1991,1992,1993,1994,1995,1996,1997,1998],"format":"d","tickSize":-10,"labelPadding":16}},
    "y":{"field":"v","type":"quantitative","scale":{"domain":[0,0.5],"nice":false},"axis":{"orient":"left","values":[0,0.1,0.2,0.3,0.4,0.5],"format":".1f","tickSize":-11,"labelPadding":20}}}},
  {"mark":{"type":"line","opacity":0},
   "encoding":{
    "x":{"field":"t","type":"quantitative","axis":{"orient":"top","values":[1990,1991,1992,1993,1994,1995,1996,1997,1998],"labels":false,"tickSize":-10}},
    "y":{"field":"v","type":"quantitative","axis":{"orient":"right","values":[0,0.1,0.2,0.3,0.4,0.5],"labels":false,"tickSize":-11}}}}
 ],
 "resolve":{"axis":{"x":"independent","y":"independent"}}},
{"title":"DM/$ and Yen/$ Correlation","width":1209,"height":263,"data":{"name":"corr"},
 "layer":[
  {"mark":{"type":"line","color":"black","strokeWidth":1},
   "encoding":{
    "x":{"field":"t","type":"quantitative","scale":{"domain":[1990,1999],"nice":false,"zero":false},"axis":{"orient":"bottom","values":[1990,1991,1992,1993,1994,1995,1996,1997,1998],"format":"d","tickSize":-10,"labelPadding":16}},
    "y":{"field":"v","type":"quantitative","scale":{"domain":[-0.5,1],"nice":false,"zero":false},"axis":{"orient":"left","values":[-0.5,-0.25,0,0.25,0.5,0.75,1],"format":".2f","labelExpr":"replace(datum.label, '\u2212', '-')","tickSize":-11,"labelPadding":20}}}},
  {"mark":{"type":"line","opacity":0},
   "encoding":{
    "x":{"field":"t","type":"quantitative","axis":{"orient":"top","values":[1990,1991,1992,1993,1994,1995,1996,1997,1998],"labels":false,"tickSize":-10}},
    "y":{"field":"v","type":"quantitative","axis":{"orient":"right","values":[-0.5,-0.25,0,0.25,0.5,0.75,1],"labels":false,"tickSize":-11}}}}
 ],
 "resolve":{"axis":{"x":"independent","y":"independent"}}}
]
}
